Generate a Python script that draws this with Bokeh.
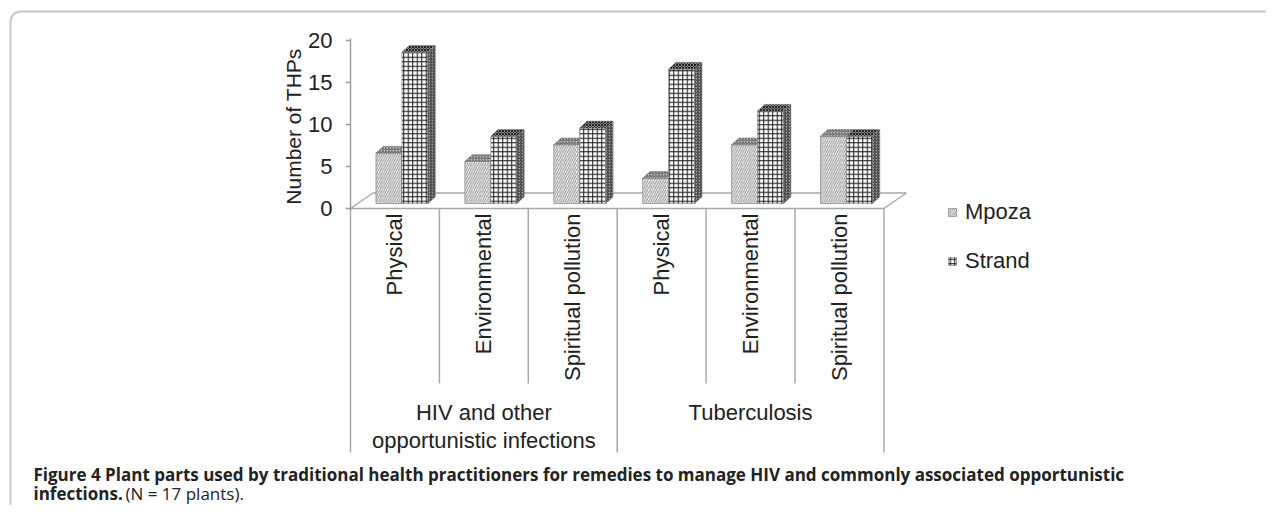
import numpy as np
from bokeh.plotting import figure
from bokeh.models import (ColumnDataSource, LinearAxis, FixedTicker, Range1d,
                          Legend, LegendItem, BoxAnnotation)
from bokeh.core.properties import value
from bokeh.embed import file_html
from bokeh.resources import INLINE

# ---------------- data ----------------
groups = ["HIV and other\nopportunistic infections", "Tuberculosis"]
parts = ["Physical", "Environmental", "Spiritual pollution"]
mpoza = [6, 5, 7, 3, 7, 8]
strand = [18, 8, 9, 16, 11, 8]
series_names = ["Mpoza", "Strand"]
y_ticks = [0, 5, 10, 15, 20]
y_label = "Number of THPs"
caption_line1 = ("Figure 4 Plant parts used by traditional health practitioners for remedies "
                 "to manage HIV and commonly associated opportunistic")
caption_bold2 = "infections."
caption_reg2 = "(N = 17 plants)."

# ---------------- geometry (pixel styling constants) ----------------
W, H = 1266, 505
PX_X = 88.9     # px per category
PX_Y = 8.4      # px per value unit
X0 = 350        # px (from left) of first category's left edge
Y0 = 208        # px (from top) of value 0


def dx(px):
    return px / PX_X


def dy(px):
    return px / PX_Y


def fx(px):
    return (px - X0) / PX_X


def fy(py):
    return (Y0 - py) / PX_Y


FONT = value("Liberation Sans")
TXT = "#222222"
FS = "22px"

p = figure(width=W, height=H, x_range=Range1d(fx(0), fx(W)), y_range=Range1d(fy(H), fy(0)),
           output_backend="svg", toolbar_location=None,
           x_axis_location=None, y_axis_location=None, min_border=0)
p.outline_line_color = None
p.grid.visible = False
p.background_fill_color = "white"
p.border_fill_color = "white"

n = len(mpoza)
cats = [(g, pt) for g in groups for pt in parts]
centers = np.arange(n) + 0.5

# ---------------- floor ----------------
FDX, FDY = dx(22.5), dy(15.5)
p.patch(x=[0, n, n + FDX, FDX], y=[0, 0, FDY, FDY], fill_color="white",
        line_color="#a8a8a8", line_width=1.5)

# ---------------- bars (pseudo 3D) ----------------
BAR_W = dx(26)
OFF_X, OFF_Y = dx(7), dy(5)
DDX, DDY = dx(7.3), dy(6.7)

styles = [
    dict(front=dict(fill_color="white", hatch_pattern="/", hatch_color="#8a8a8a", hatch_scale=4.5, hatch_weight=1),
         top=dict(fill_color="#c8c8c8", hatch_pattern="/", hatch_color="#555555", hatch_scale=3, hatch_weight=1),
         side=dict(fill_color="#b5b5b5", hatch_pattern="/", hatch_color="#555555", hatch_scale=3, hatch_weight=1)),
    dict(front=dict(fill_color="white", hatch_pattern="+", hatch_color="#262626", hatch_scale=4.5, hatch_weight=1.1),
         top=dict(fill_color="#8a8a8a", hatch_pattern="x", hatch_color="#1e1e1e", hatch_scale=3, hatch_weight=1),
         side=dict(fill_color="#a0a0a0", hatch_pattern="/", hatch_color="#2a2a2a", hatch_scale=3, hatch_weight=1)),
]

front_renderers = []
for s, vals in enumerate([mpoza, strand]):
    vals = np.array(vals, dtype=float)
    left = centers - BAR_W + s * BAR_W + OFF_X
    right = left + BAR_W
    bottom = np.full(n, OFF_Y)
    top = vals + OFF_Y
    src = ColumnDataSource(dict(left=left, right=right, bottom=bottom, top=top,
                                cat=[" / ".join(c) for c in cats], v=vals))
    st = styles[s]
    r = p.quad(left="left", right="right", bottom="bottom", top="top", source=src,
               line_color="#777777", line_width=0.6, **st["front"])
    front_renderers.append(r)
    top_xs = [[l, rr, rr + DDX, l + DDX] for l, rr in zip(left, right)]
    top_ys = [[t, t, t + DDY, t + DDY] for t in top]
    p.patches(xs=top_xs, ys=top_ys, line_color="#777777", line_width=0.6, **st["top"])
    side_xs = [[rr, rr + DDX, rr + DDX, rr] for rr in right]
    side_ys = [[b, b + DDY, t + DDY, t] for b, t in zip(bottom, top)]
    p.patches(xs=side_xs, ys=side_ys, line_color="#777777", line_width=0.6, **st["side"])

# ---------------- category separators ----------------
sub_b = [i for i in range(1, n) if i % len(parts) != 0]
grp_b = [i for i in range(0, n + 1) if i % len(parts) == 0]
p.segment(x0=sub_b, y0=[0] * len(sub_b), x1=sub_b, y1=[fy(383)] * len(sub_b),
          line_color="#a8a8a8", line_width=1.5)
p.segment(x0=grp_b, y0=[0] * len(grp_b), x1=grp_b, y1=[fy(452)] * len(grp_b),
          line_color="#a8a8a8", line_width=1.5)

# category labels (rotated)
p.text(x=centers, y=[fy(213)] * n, text=[c[1] for c in cats], angle=np.pi / 2,
       text_align="right", text_baseline="middle", text_font=FONT,
       text_font_size=FS, text_color=TXT)
# group labels
gc = [len(parts) * (i + 0.5) for i in range(len(groups))]
p.text(x=gc, y=[fy(399)] * len(groups), text=groups, text_align="center",
       text_baseline="top", text_font=FONT, text_font_size=FS, text_color=TXT,
       text_line_height=1.13)

# ---------------- y axis ----------------
yaxis = LinearAxis(fixed_location=0, bounds=(-0.25, 20.25),
                   ticker=FixedTicker(ticks=y_ticks, minor_ticks=[]))
yaxis.axis_line_color = "#a0a0a0"
yaxis.axis_line_width = 1.5
yaxis.major_tick_line_color = "#a0a0a0"
yaxis.major_tick_line_width = 1.5
yaxis.major_tick_out = 5
yaxis.major_tick_in = 0
yaxis.minor_tick_line_color = None
yaxis.major_label_standoff = 13
yaxis.major_label_text_font = "Liberation Sans"
yaxis.major_label_text_font_size = FS
yaxis.major_label_text_color = TXT
p.add_layout(yaxis, "left")

p.text(x=[fx(293)], y=[fy(126)], text=[y_label], angle=np.pi / 2, text_align="center",
       text_baseline="middle", text_font=FONT, text_font_size="21px", text_color=TXT)

# ---------------- legend ----------------
legend = Legend(items=[LegendItem(label=series_names[i], renderers=[front_renderers[i]])
                       for i in range(2)],
                location=(947, 231), glyph_width=10, glyph_height=10,
                label_text_font="Liberation Sans", label_text_font_size=FS,
                label_text_color=TXT, label_height=24, label_standoff=8,
                spacing=23, padding=0, margin=0, border_line_color=None,
                background_fill_alpha=0)
p.add_layout(legend)

# ---------------- frame & caption ----------------
p.add_layout(BoxAnnotation(left=fx(10), right=fx(1300), top=fy(11), bottom=fy(523),
                           fill_alpha=0, line_color="#444444", line_width=2,
                           border_radius=10, level="overlay"))

CAP_FONT = value("Open Sans")
CAP1_Y, CAP2_Y = 474, 493
p.text(x=[fx(33)], y=[fy(CAP1_Y)], text=[caption_line1], text_align="left", text_baseline="middle",
       text_font=CAP_FONT, text_font_style="bold", text_font_size="17px", text_color=TXT)
p.text(x=[fx(33)], y=[fy(CAP2_Y)], text=[caption_bold2], text_align="left", text_baseline="middle",
       text_font=CAP_FONT, text_font_style="bold", text_font_size="17px", text_color=TXT)
p.text(x=[fx(125)], y=[fy(CAP2_Y)], text=[caption_reg2], text_align="left", text_baseline="middle",
       text_font=CAP_FONT, text_font_size="17px", text_color=TXT)

open("out.html", "w").write(file_html(p, INLINE))
